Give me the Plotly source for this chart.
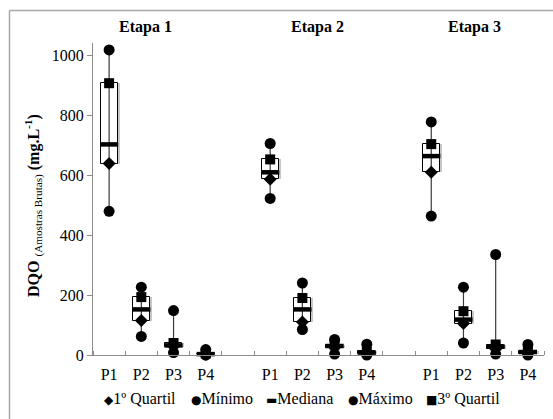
import plotly.graph_objects as go

# DQO (raw samples) box summaries per stage and sampling point
stages = ["Etapa 1", "Etapa 2", "Etapa 3"]
points = ["P1", "P2", "P3", "P4"]

minimo = [479, 62, 8, 0,   522, 85, 3, 0,   463, 40, 3, 0]
quartil1 = [638, 115, 28, 2,   586, 110, 25, 5,   609, 105, 20, 5]
mediana = [702, 152, 32, 3,   609, 152, 30, 8,   663, 118, 28, 10]
quartil3 = [906, 193, 40, 5,   652, 190, 35, 12,   703, 146, 35, 12]
maximo = [1017, 226, 148, 18,   705, 240, 52, 36,   777, 226, 335, 35]

y_ticks = [0, 200, 400, 600, 800, 1000]

# one empty slot between stages on the category axis
xs = [s * 5 + p for s in range(len(stages)) for p in range(len(points))]
xlabels = [p for _ in stages for p in points]

FONT = "Liberation Serif, Times New Roman, serif"
BLACK = "#000000"

fig = go.Figure()

# whiskers (min to max)
wx, wy = [], []
for x, lo, hi in zip(xs, minimo, maximo):
    wx += [x, x, None]
    wy += [lo, hi, None]
fig.add_trace(go.Scatter(x=wx, y=wy, mode="lines",
                         line=dict(color="#3a3a3a", width=1.2),
                         hoverinfo="skip", showlegend=False, cliponaxis=False))

box_h = [b - a for a, b in zip(quartil1, quartil3)]

# soft shadow behind the boxes
fig.add_trace(go.Bar(x=xs, y=box_h, base=quartil1, width=0.53, offset=-0.2,
                     marker=dict(color="rgba(0,0,0,0.22)", line=dict(width=0)),
                     showlegend=False, hoverinfo="skip"))

# boxes between quartiles
fig.add_trace(go.Bar(x=xs, y=box_h, base=quartil1, width=0.53,
                     marker=dict(color="white", line=dict(color=BLACK, width=1)),
                     showlegend=False, hoverinfo="skip"))

def marks(y, symbol, size, lw=0):
    fig.add_trace(go.Scatter(
        x=xs, y=y, mode="markers", cliponaxis=False, showlegend=False,
        marker=dict(symbol=symbol, size=size, color=BLACK,
                    line=dict(color=BLACK, width=lw))))

marks(mediana, "line-ew", 13, 4.5)
marks(quartil1, "diamond", 10)
marks(minimo, "circle", 11)
marks(maximo, "circle", 11)
marks(quartil3, "square", 10)

# plot area geometry (px) used to place paper annotations
L, R, T, B = 93, 9, 43, 64
W, H = 553, 419
pw, ph = W - L - R, H - T - B

def px(xp):
    return (xp - L) / pw

def py(yp):
    return (H - B - yp) / ph

annotations = []
for name, xp in zip(stages, [145, 317, 474]):
    annotations.append(dict(x=px(xp), y=py(27), xref="paper", yref="paper",
                            xanchor="center", yanchor="middle",
                            text=f"<b>{name}</b>", showarrow=False,
                            font=dict(family=FONT, size=16, color=BLACK)))

annotations.append(dict(
    x=px(34), y=py(206), xref="paper", yref="paper", textangle=-90, showarrow=False,
    xanchor="center", yanchor="middle",
    text="<b>DQO</b> <sub>(Amostras Brutas)</sub> <b>(mg.L<sup>-1</sup>)</b>",
    font=dict(family=FONT, size=16, color=BLACK)))

legend_items = [("◆", "1º Quartil", 102), ("●", "Mínimo", 189), ("▬", "Mediana", 264),
                ("●", "Máximo", 346), ("■", "3º Quartil", 424)]
for sym, label, xp in legend_items:
    annotations.append(dict(
        x=px(xp), y=py(398), xref="paper", yref="paper", xanchor="left", yanchor="middle",
        showarrow=False,
        text=f"<span style='font-family:DejaVu Sans;font-size:12px'>{sym}</span>{label}",
        font=dict(family=FONT, size=16, color=BLACK)))

shapes = [
    dict(type="line", xref="paper", yref="paper", x0=px(9.5), x1=px(560),
         y0=py(10.5), y1=py(10.5), line=dict(color="#a8a8a8", width=1.5)),
    dict(type="line", xref="paper", yref="paper", x0=px(9.5), x1=px(9.5),
         y0=py(10.5), y1=py(430), line=dict(color="#a8a8a8", width=1.5)),
]

fig.update_layout(
    width=W, height=H,
    margin=dict(l=L, r=R, t=T, b=B),
    paper_bgcolor="white", plot_bgcolor="white",
    showlegend=False, bargap=0, barmode="overlay",
    font=dict(family=FONT, size=16, color=BLACK),
    annotations=annotations, shapes=shapes,
    xaxis=dict(range=[-0.5, 13.5], tickvals=xs, ticktext=xlabels, ticks="",
               showline=True, linecolor="#8c8c8c", linewidth=1, showgrid=False,
               zeroline=False, ticklabelstandoff=5,
               minor=dict(ticks="inside", tick0=-0.5, dtick=1, ticklen=4,
                          tickcolor="#8c8c8c", showgrid=False),
               tickfont=dict(family=FONT, size=16, color=BLACK)),
    yaxis=dict(range=[0, 1040], tickvals=y_ticks, ticks="outside", ticklen=5,
               tickcolor="#8c8c8c", showline=True, linecolor="#8c8c8c", linewidth=1,
               showgrid=False, zeroline=False,
               tickfont=dict(family=FONT, size=16, color=BLACK)),
)

fig.write_html("out.html")
